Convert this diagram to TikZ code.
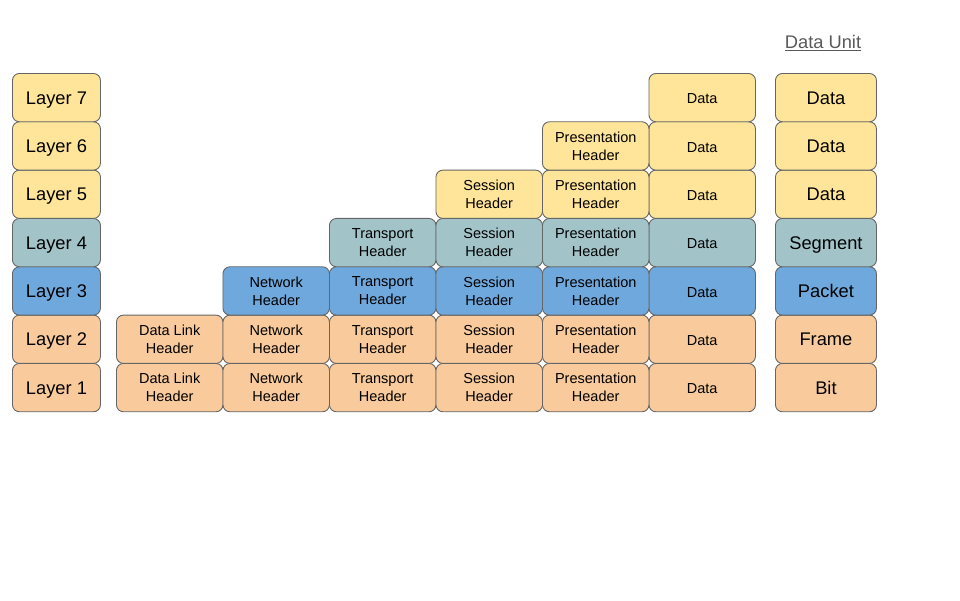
\documentclass[tikz,border=0pt]{standalone}
\usepackage{fontspec}
\setmainfont{Liberation Sans}
\definecolor{cyel}{HTML}{FFE599}
\definecolor{cteal}{HTML}{A2C4C9}
\definecolor{cblue}{HTML}{6FA8DC}
\definecolor{corange}{HTML}{F9CB9C}
\definecolor{cedge}{HTML}{666666}
\definecolor{ctitle}{HTML}{595959}
\tikzset{
  cell/.style={draw=cedge, line width=0.9pt, rounded corners=7pt, anchor=north west,
    minimum height=48.33pt, inner sep=0pt, align=center, text=black},
  layercell/.style={cell, minimum width=88pt, font=\fontsize{18.3}{22}\selectfont,
    text height=17pt, text depth=4pt},
  hdrcell/.style={cell, minimum width=106.5pt, font=\fontsize{14.5}{18}\selectfont},
  datacell/.style={hdrcell, text height=13.5pt, text depth=1pt},
  unitcell/.style={cell, minimum width=101pt, font=\fontsize{18.3}{22}\selectfont,
    text height=17pt, text depth=4pt},
}
\begin{document}
\begin{tikzpicture}[x=1pt,y=-1pt]
\useasboundingbox (0,0) rectangle (960,600);
\node[text=ctitle, font=\fontsize{18.3}{22}\selectfont, inner sep=0pt] (title) at (823,43) {\underline{Data Unit}};
% row colors: 1..7
\def\rowcolor#1{\ifcase#1\or corange\or corange\or cblue\or cteal\or cyel\or cyel\or cyel\fi}
\foreach \r/\u in {1/Bit,2/Frame,3/Packet,4/Segment,5/Data,6/Data,7/Data}{
  \pgfmathsetmacro{\ty}{73+(7-\r)*48.33}
  \edef\fc{\rowcolor{\r}}
  \node[layercell, fill=\fc] (L\r) at (12,\ty) {Layer \r};
  \node[unitcell, fill=\fc] (U\r) at (775,\ty) {\u};
  \node[datacell, fill=\fc] (D\r) at (648.5,\ty) {Data};
}
% header columns: c index 1..5 ; column c present for rows r <= c+1
\foreach \c/\t in {1/Data Link\\Header,2/Network\\Header,3/Transport\\Header,4/Session\\Header,5/Presentation\\Header}{
  \pgfmathsetmacro{\tx}{116+(\c-1)*106.5}
  \pgfmathtruncatemacro{\top}{\c+1}
  \foreach \r in {1,...,\top}{
    \pgfmathsetmacro{\ty}{73+(7-\r)*48.33}
    \edef\fc{\rowcolor{\r}}
    \node[hdrcell, fill=\fc] (H\c-\r) at (\tx,\ty) {\t};
  }
}
\end{tikzpicture}
\end{document}
